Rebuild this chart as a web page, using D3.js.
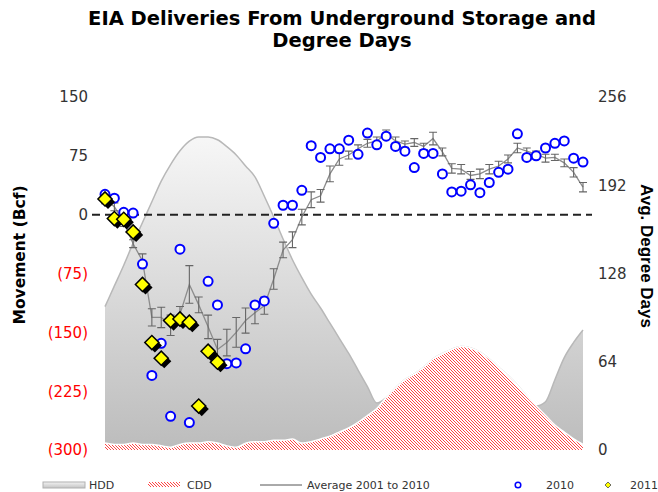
<!DOCTYPE html>
<html>
<head>
<meta charset="utf-8">
<script src="https://cdn.jsdelivr.net/npm/d3@7"></script>
<style>
  body { margin: 0; background: #fff; }
  svg { display: block; }
</style>
</head>
<body>
<div id="chart"></div>
<script>
// EIA storage withdrawals vs. degree days - weekly, 52 weeks

const weeks = d3.range(1, 53);

// avg weekly degree days (right axis), stacked: CDD at bottom, HDD on top
const hdd = [99, 115, 130, 145, 161, 176, 192, 205, 213, 219, 222, 221, 220, 217, 212, 201,
  192, 178, 162, 146, 130, 120, 107, 95, 82, 68, 54, 38, 21, 4, 0, 0,
  0, 0, 0, 0, 0, 0, 0, 0, 0, 0, 0, 0, 0, 0, 0, 10, 33, 54, 70, 83];
const cdd = [5, 4, 4, 5, 4, 4, 3, 2, 4, 5, 5, 6, 5, 3, 2, 5,
  6, 6, 7, 7, 8, 5, 6, 8, 10, 13, 16, 20, 25, 30, 38, 45,
  51, 55, 60, 66, 70, 73, 75, 74, 71, 66, 60, 54, 47, 39, 32, 25, 18, 13, 8, 4];

// average 2001-2010 movement (Bcf) and error bar half-width
const avg = [19, 10, -9, -37, -59, -131, -131, -141, -127, -89, -115, -143, -172, -163, -150, -135,
  -125, -116, -82, -45, -32, -3, 19, 24, 52, 71, 76, 84, 91, 94, 103, 94,
  90, 92, 87, 97, 80, 59, 58, 50, 52, 58, 62, 71, 85, 81, 77, 72, 73, 66, 54, 35];
const avgErr = [5, 5, 6, 5, 9, 11, 13, 13, 10, 24, 10, 15, 13, 17, 19, 16,
  14, 11, 13, 10, 10, 10, 10, 8, 10, 8, 5, 5, 5, 5, 5, 5,
  4, 5, 4, 8, 5, 6, 6, 5, 6, 6, 6, 5, 6, 4, 4, 5, 4, 5, 6, 6];

const y2010 = [26, 21, 3, 2, -63, -205, -164, -257, -44, -265, -245, -85, -115, -190, -189, -171,
  -115, -110, -11, 12, 12, 31, 88, 73, 84, 84, 95, 77, 104, 89, 100, 87,
  81, 60, 78, 78, 52, 29, 30, 38, 28, 41, 54, 58, 103, 73, 75, 85, 91, 94, 72, 67];
const y2011 = [20, -5, -6, -22, -89, -163, -183, -135, -133, -137, -244, -174, -188];

const leftTicks = [150, 75, 0, -75, -150, -225, -300];
const rightTicks = [0, 64, 128, 192, 256];

const W = 658, H = 492;
const plot = { left: 105, right: 583, top: 97, bottom: 450 };

const svg = d3.select('#chart').append('svg').attr('width', W).attr('height', H);
const defs = svg.append('defs');

const grad = defs.append('linearGradient').attr('id', 'hddGrad')
  .attr('gradientUnits', 'userSpaceOnUse')
  .attr('x1', 0).attr('y1', 135).attr('x2', 0).attr('y2', 450);
grad.append('stop').attr('offset', '0%').attr('stop-color', '#f7f7f7');
grad.append('stop').attr('offset', '100%').attr('stop-color', '#bcbcbc');

const lgGrad = defs.append('linearGradient').attr('id', 'lgGrad')
  .attr('x1', 0).attr('y1', 0).attr('x2', 0).attr('y2', 1);
lgGrad.append('stop').attr('offset', '0%').attr('stop-color', '#f2f2f2');
lgGrad.append('stop').attr('offset', '100%').attr('stop-color', '#c4c4c4');

const hatch = defs.append('pattern').attr('id', 'hatch')
  .attr('patternUnits', 'userSpaceOnUse').attr('width', 3).attr('height', 3);
hatch.append('rect').attr('width', 3).attr('height', 3).attr('fill', '#fff');
hatch.append('path').attr('d', 'M0,0L3,3M-1,2L1,4M2,-1L4,1')
  .attr('stroke', '#ff3a3a').attr('stroke-width', 0.95);

// scales
const x = d3.scalePoint().domain(weeks).range([plot.left, plot.right]);
const yL = d3.scaleLinear().domain([-300, 150]).range([plot.bottom, plot.top]);
const yR = d3.scaleLinear().domain([0, 256]).range([plot.bottom, plot.top]);

const dd = weeks.map((w, i) => ({ w, cdd: cdd[i], tot: cdd[i] + hdd[i] }));

// HDD area stacked on CDD
svg.append('path').datum(dd)
  .attr('d', d3.area().x(d => x(d.w)).y0(d => yR(d.cdd)).y1(d => yR(d.tot)).curve(d3.curveMonotoneX))
  .attr('fill', 'url(#hddGrad)');
svg.append('path').datum(dd)
  .attr('d', d3.line().x(d => x(d.w)).y(d => yR(d.tot)).curve(d3.curveMonotoneX))
  .attr('fill', 'none').attr('stroke', '#b8b8b8').attr('stroke-width', 1.5);

// CDD area
svg.append('path').datum(dd)
  .attr('d', d3.area().x(d => x(d.w)).y0(yR(0)).y1(d => yR(d.cdd)).curve(d3.curveMonotoneX))
  .attr('fill', 'url(#hatch)');
svg.append('path').datum(dd)
  .attr('d', d3.line().x(d => x(d.w)).y(d => yR(d.cdd)).curve(d3.curveMonotoneX))
  .attr('fill', 'none').attr('stroke', '#fff').attr('stroke-width', 1.5);

// zero line
svg.append('line')
  .attr('x1', 92).attr('x2', 592).attr('y1', yL(0)).attr('y2', yL(0))
  .attr('stroke', '#222').attr('stroke-width', 2).attr('stroke-dasharray', '8,5');

// average line with error bars
const avgData = weeks.map((w, i) => ({ w, v: avg[i], e: avgErr[i] }));
svg.append('path').datum(avgData)
  .attr('d', d3.line().x(d => x(d.w)).y(d => yL(d.v)))
  .attr('fill', 'none').attr('stroke', '#8c8c8c').attr('stroke-width', 1.3);

const eb = svg.append('g').attr('stroke', '#666').attr('stroke-width', 1.1).attr('fill', 'none');
eb.selectAll('path').data(avgData).join('path')
  .attr('d', d => {
    const cx = x(d.w), t = yL(d.v + d.e), b = yL(d.v - d.e);
    return `M${cx - 4},${t}H${cx + 4}M${cx},${t}V${b}M${cx - 4},${b}H${cx + 4}`;
  });

// 2010 points
svg.append('g').selectAll('circle').data(y2010).join('circle')
  .attr('cx', (d, i) => x(weeks[i])).attr('cy', d => yL(d)).attr('r', 4.5)
  .attr('fill', '#fff').attr('stroke', '#0000ff').attr('stroke-width', 2);

// 2011 points: diamond with shadow
const sq = d3.symbol(d3.symbolSquare, 100)();
const g11 = svg.append('g');
y2011.forEach((v, i) => {
  const cx = x(weeks[i]), cy = yL(v);
  g11.append('path').attr('d', sq)
    .attr('transform', `translate(${cx + 3},${cy + 3}) rotate(45)`)
    .attr('fill', '#000');
  g11.append('path').attr('d', sq)
    .attr('transform', `translate(${cx},${cy}) rotate(45)`)
    .attr('fill', '#ffff00').attr('stroke', '#000').attr('stroke-width', 1.5);
});

// axes labels
const tickFont = '"DejaVu Sans", Verdana, sans-serif';
svg.append('g').selectAll('text').data(leftTicks).join('text')
  .attr('x', 88).attr('y', d => yL(d)).attr('dy', '0.36em')
  .attr('text-anchor', 'end')
  .style('font', `15px ${tickFont}`)
  .attr('fill', d => d < 0 ? '#ff0000' : '#333')
  .text(d => d < 0 ? `(${-d})` : d);

svg.append('g').selectAll('text').data(rightTicks).join('text')
  .attr('x', 598).attr('y', d => yR(d)).attr('dy', '0.36em')
  .style('font', `15px ${tickFont}`)
  .attr('fill', '#333')
  .text(d => d);

svg.append('text')
  .attr('transform', `translate(25,255) rotate(-90)`)
  .attr('text-anchor', 'middle')
  .style('font', `bold 15.5px ${tickFont}`)
  .text('Movement (Bcf)');

svg.append('text')
  .attr('transform', `translate(641,256) rotate(90)`)
  .attr('text-anchor', 'middle')
  .style('font', 'bold 17px "Liberation Sans", Arial, sans-serif')
  .text('Avg. Degree Days');

// title
const title = svg.append('text').attr('text-anchor', 'middle')
  .style('font', `bold 19.5px ${tickFont}`);
title.append('tspan').attr('x', 342).attr('y', 25).text('EIA Deliveries From Underground Storage and');
title.append('tspan').attr('x', 342).attr('y', 47).text('Degree Days');

// legend
const lg = svg.append('g').style('font', `11px ${tickFont}`).attr('fill', '#333');
const ly = 485;
lg.append('rect').attr('x', 43).attr('y', ly - 3).attr('width', 42).attr('height', 6)
  .attr('fill', 'url(#lgGrad)').attr('stroke', '#b0b0b0');
lg.append('text').attr('x', 89).attr('y', ly).attr('dy', '0.36em').text('HDD');
lg.append('rect').attr('x', 148).attr('y', ly - 3).attr('width', 32).attr('height', 5)
  .attr('fill', 'url(#hatch)');
lg.append('text').attr('x', 187).attr('y', ly).attr('dy', '0.36em').text('CDD');
lg.append('line').attr('x1', 260).attr('x2', 302).attr('y1', ly).attr('y2', ly)
  .attr('stroke', '#555').attr('stroke-width', 1);
lg.append('text').attr('x', 307).attr('y', ly).attr('dy', '0.36em').text('Average 2001 to 2010');
lg.append('circle').attr('cx', 518).attr('cy', ly).attr('r', 2.8)
  .attr('fill', '#fff').attr('stroke', '#0000ff').attr('stroke-width', 1.5);
lg.append('text').attr('x', 546).attr('y', ly).attr('dy', '0.36em').text('2010');
lg.append('path').attr('d', d3.symbol(d3.symbolSquare, 18)())
  .attr('transform', `translate(608,${ly}) rotate(45)`)
  .attr('fill', '#ffff00').attr('stroke', '#555').attr('stroke-width', 0.8);
lg.append('text').attr('x', 630).attr('y', ly).attr('dy', '0.36em').text('2011');
</script>
</body>
</html>
